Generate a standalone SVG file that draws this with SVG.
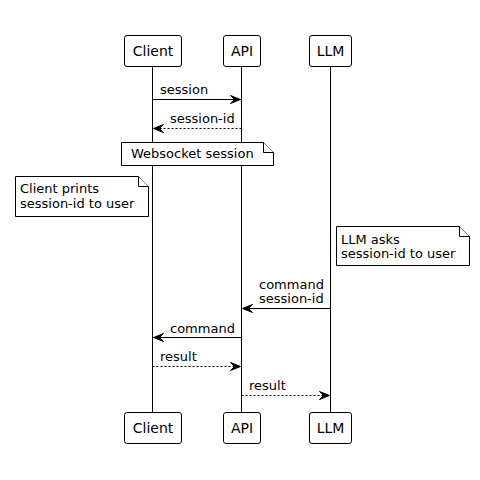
<svg xmlns="http://www.w3.org/2000/svg" width="480" height="480" viewBox="0 0 480 480">
<style>
.box{fill:#fff;stroke:#000;stroke-width:1}
.pt{font-family:"DejaVu Sans",sans-serif;font-size:14px;fill:#000;text-anchor:middle}
.t{font-family:"DejaVu Sans",sans-serif;font-size:13px;fill:#000}
.life{stroke:#000;stroke-width:1}
.msg{stroke:#000;stroke-width:1;fill:none}
.dash{stroke-dasharray:2,2}
.note{fill:#fff;stroke:#000;stroke-width:1}
</style>
<defs>
<marker id="ah" viewBox="-1 -1 12 10" refX="10" refY="4" markerWidth="12" markerHeight="10" markerUnits="userSpaceOnUse" orient="auto">
<path d="M0,0 L10,4 L0,8 L4,4 Z" fill="#000" stroke="#000" stroke-width="1" stroke-linejoin="miter"/>
</marker>
</defs>
<g id="lifelines">
<line class="life" x1="152.5" y1="66" x2="152.5" y2="413"/>
<line class="life" x1="241.5" y1="66" x2="241.5" y2="413"/>
<line class="life" x1="330.5" y1="66" x2="330.5" y2="413"/>
</g>
<g id="Client">
<rect class="box" x="124.5" y="35.5" width="57" height="31" rx="2.5"/>
<text class="pt" x="153" y="56">Client</text>
<rect class="box" x="124.5" y="412.5" width="57" height="31" rx="2.5"/>
<text class="pt" x="153" y="433">Client</text>
</g>
<g id="API">
<rect class="box" x="223.5" y="35.5" width="37" height="31" rx="2.5"/>
<text class="pt" x="242" y="56">API</text>
<rect class="box" x="223.5" y="412.5" width="37" height="31" rx="2.5"/>
<text class="pt" x="242" y="433">API</text>
</g>
<g id="LLM">
<rect class="box" x="309.5" y="35.5" width="42" height="31" rx="2.5"/>
<text class="pt" x="330.5" y="56">LLM</text>
<rect class="box" x="309.5" y="412.5" width="42" height="31" rx="2.5"/>
<text class="pt" x="330.5" y="433">LLM</text>
</g>
<g id="note-websocket">
<path class="note" d="M121.5,142.5 L263.5,142.5 L273.5,152.5 L273.5,165.5 L121.5,165.5 Z"/>
<path class="note" d="M263.5,142.5 L263.5,152.5 L273.5,152.5"/>
<text class="t" x="131" y="158">Websocket session</text>
</g>
<g id="note-client">
<path class="note" d="M15.5,176.5 L138.5,176.5 L148.5,186.5 L148.5,216.5 L15.5,216.5 Z"/>
<path class="note" d="M138.5,176.5 L138.5,186.5 L148.5,186.5"/>
<text class="t" x="20" y="193">Client prints</text>
<text class="t" x="20" y="208">session-id to user</text>
</g>
<g id="note-llm">
<path class="note" d="M336.5,226.5 L459.5,226.5 L469.5,236.5 L469.5,265.5 L336.5,265.5 Z"/>
<path class="note" d="M459.5,226.5 L459.5,236.5 L469.5,236.5"/>
<text class="t" x="341" y="244">LLM asks</text>
<text class="t" x="341" y="258">session-id to user</text>
</g>
<g id="connectors">
<line class="msg" x1="152.5" y1="99.5" x2="240.5" y2="99.5" marker-end="url(#ah)"/>
<text class="t" x="160" y="94">session</text>
<line class="msg dash" x1="241.5" y1="128.5" x2="153.5" y2="128.5" marker-end="url(#ah)"/>
<text class="t" x="170" y="123">session-id</text>
<line class="msg" x1="330.5" y1="308.5" x2="242.5" y2="308.5" marker-end="url(#ah)"/>
<text class="t" x="259" y="289">command</text>
<text class="t" x="259" y="303">session-id</text>
<line class="msg" x1="241.5" y1="337.5" x2="153.5" y2="337.5" marker-end="url(#ah)"/>
<text class="t" x="170" y="333">command</text>
<line class="msg dash" x1="152.5" y1="366.5" x2="240.5" y2="366.5" marker-end="url(#ah)"/>
<text class="t" x="160" y="361">result</text>
<line class="msg dash" x1="241.5" y1="395.5" x2="329.5" y2="395.5" marker-end="url(#ah)"/>
<text class="t" x="249" y="390">result</text>
</g>
</svg>
